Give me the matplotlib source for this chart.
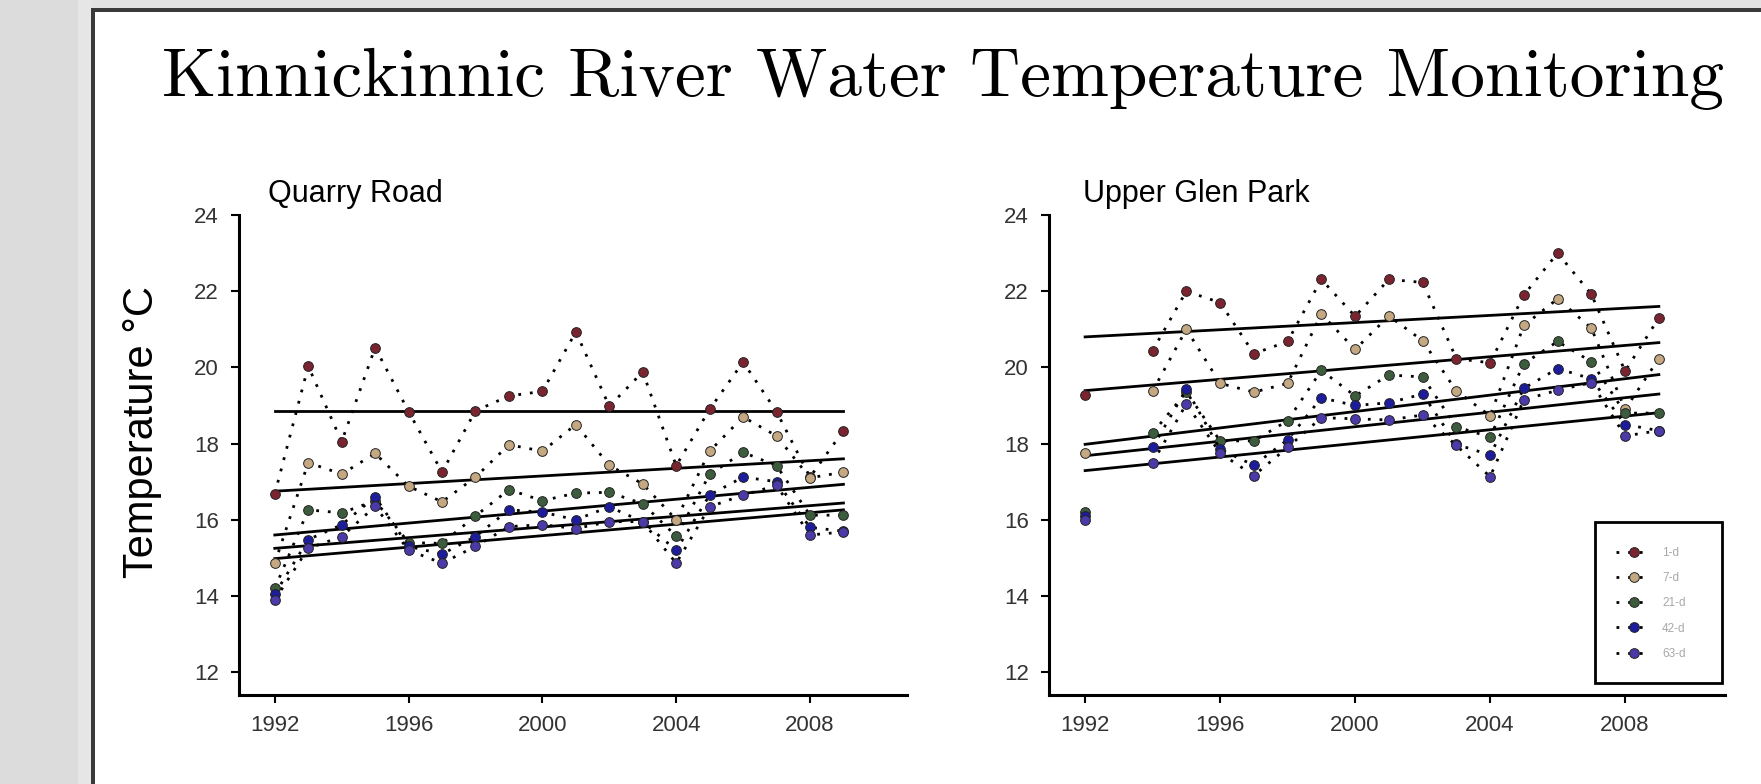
import matplotlib
matplotlib.use("Agg")
import matplotlib.pyplot as plt
import numpy as np
from matplotlib.patches import Rectangle

plt.rcParams['font.family'] = ['Liberation Sans', 'DejaVu Sans']

# ---- data ----
years = list(range(1992, 2010))
labels = ["1-d", "7-d", "21-d", "42-d", "63-d"]
colors = ["#7a2430", "#c4a882", "#3d5c3d", "#1c1c9c", "#4b3aa8"]

# Quarry Road
qr_1d  = [16.68, 20.03, 18.05, 20.52, 18.84, 17.25, 18.86, 19.25, 19.37, 20.93, 18.98, 19.88, 17.42, 18.90, 20.14, 18.84, 17.12, 18.34]
qr_7d  = [14.86, 17.50, 17.20, 17.74, 16.88, 16.47, 17.12, 17.97, 17.80, 18.50, 17.43, 16.94, 16.00, 17.80, 18.70, 18.20, 17.10, 17.25]
qr_21d = [14.20, 16.26, 16.18, 16.50, 15.40, 15.38, 16.10, 16.79, 16.50, 16.70, 16.72, 16.42, 15.57, 17.19, 17.77, 17.42, 16.12, 16.12]
qr_42d = [14.05, 15.48, 15.87, 16.60, 15.30, 15.10, 15.56, 16.26, 16.20, 16.00, 16.34, 15.95, 15.20, 16.65, 17.12, 17.00, 15.80, 15.70]
qr_63d = [13.90, 15.25, 15.56, 16.35, 15.20, 14.86, 15.30, 15.82, 15.87, 15.77, 15.95, 15.95, 14.86, 16.34, 16.65, 16.90, 15.60, 15.68]
qr_trend_start = [18.85, 16.75, 15.60, 15.25, 14.98]
qr_trend_end   = [18.85, 17.60, 16.93, 16.44, 16.26]

# Upper Glen Park (no 1993 sample)
nan = np.nan
ug_1d  = [19.27, nan, 20.44, 22.00, 21.70, 20.36, 20.68, 22.31, 21.34, 22.31, 22.23, 20.23, 20.12, 21.90, 23.00, 21.92, 19.90, 21.30]
ug_7d  = [17.74, nan, 19.38, 21.00, 19.58, 19.35, 19.58, 21.40, 20.47, 21.35, 20.70, 19.38, 18.73, 21.10, 21.80, 21.03, 18.90, 20.23]
ug_21d = [16.20, nan, 18.28, 19.35, 18.07, 18.07, 18.60, 19.92, 19.25, 19.80, 19.75, 18.44, 18.17, 20.10, 20.68, 20.15, 18.80, 18.80]
ug_42d = [16.10, nan, 17.90, 19.43, 17.85, 17.43, 18.10, 19.20, 19.00, 19.07, 19.30, 17.98, 17.70, 19.45, 19.97, 19.70, 18.50, 18.34]
ug_63d = [16.00, nan, 17.50, 19.04, 17.75, 17.16, 17.90, 18.68, 18.65, 18.62, 18.75, 17.95, 17.13, 19.15, 19.40, 19.60, 18.20, 18.34]
ug_trend_start = [20.80, 19.39, 17.98, 17.68, 17.29]
ug_trend_end   = [21.60, 20.65, 19.81, 19.30, 18.81]

trend_years = [1992, 2009]
xticks = [1992, 1996, 2000, 2004, 2008]
yticks = [12, 14, 16, 18, 20, 22, 24]

W, H = 1761, 784
fig = plt.figure(figsize=(W / 100, H / 100), dpi=100)
fig.patch.set_facecolor("white")


def fx(px):
    return px / W


def fy(py):
    return 1 - py / H


def frect(x0, y0, x1, y1, **kw):
    # rectangle given in pixel coords (top-left origin)
    fig.patches.append(Rectangle((fx(x0), fy(y1)), fx(x1) - fx(x0), (y1 - y0) / H,
                                 transform=fig.transFigure, **kw))


# window frame around the slide
frect(0, 0, 91, H, facecolor="#dcdcdc", edgecolor="none", zorder=0)
frect(78, 0, 91, H, facecolor="#e6e6e6", edgecolor="none", zorder=0)
frect(91, 0, W, 8, facecolor="#e2e2e2", edgecolor="none", zorder=0)
frect(91, 8, 95, H, facecolor="#3a3a3a", edgecolor="none", zorder=1)
frect(91, 8, W, 12, facecolor="#3a3a3a", edgecolor="none", zorder=1)


def panel(left, right, series, t_start, t_end, title, title_x):
    ax = fig.add_axes([fx(left), fy(695), fx(right) - fx(left), (695 - 215) / H])
    for s, e in zip(t_start, t_end):
        ax.plot(trend_years, [s, e], color="black", lw=2.0, zorder=2)
    for vals, c, lab in zip(series, colors, labels):
        ax.plot(years, vals, linestyle=(0, (1, 3.2)), color="black", lw=2.0,
                marker="o", ms=7, mfc=c, mec="#222222", mew=0.7,
                label=lab, zorder=3)
    ax.set_ylim(11.4, 24)
    ax.set_yticks(yticks)
    ax.set_xticks(xticks)
    for sp in ["top", "right"]:
        ax.spines[sp].set_visible(False)
    for sp in ["left", "bottom"]:
        ax.spines[sp].set_linewidth(2.2)
    ax.tick_params(direction="out", length=6, width=1.5, labelsize=16,
                   pad=8.5, labelcolor="#333333")
    ax.patch.set_alpha(0)
    fig.text(fx(title_x), fy(202), title, fontsize=22, va="baseline", ha="left")
    return ax


ax1 = panel(239, 907, [qr_1d, qr_7d, qr_21d, qr_42d, qr_63d],
            qr_trend_start, qr_trend_end, "Quarry Road", 268)
ax1.set_xlim(1990.93, 2010.9)
ax2 = panel(1049, 1725, [ug_1d, ug_7d, ug_21d, ug_42d, ug_63d],
            ug_trend_start, ug_trend_end, "Upper Glen Park", 1083)
ax2.set_xlim(1990.93, 2010.96)

fig.text(fx(142), fy(432), "Temperature °C", rotation=90, fontsize=30,
         ha="center", va="center")

fig.text(fx(943.5), fy(96), "Kinnickinnic River Water Temperature Monitoring",
         family="cmr10", fontsize=50, ha="center", va="baseline")

# legend box
frect(1595, 522, 1722, 683, facecolor="white", edgecolor="black", lw=2, zorder=4)
handles, labs = ax2.get_legend_handles_labels()
leg = fig.legend(handles, labs, loc="upper left",
                 bbox_to_anchor=(fx(1610), fy(541)), frameon=False,
                 fontsize=8.5, borderpad=0, labelspacing=1.12, handlelength=3.0,
                 handletextpad=0.9, numpoints=1, labelcolor="#a8a8a8")
leg.set_zorder(5)

fig.savefig("out.png", dpi=100)
